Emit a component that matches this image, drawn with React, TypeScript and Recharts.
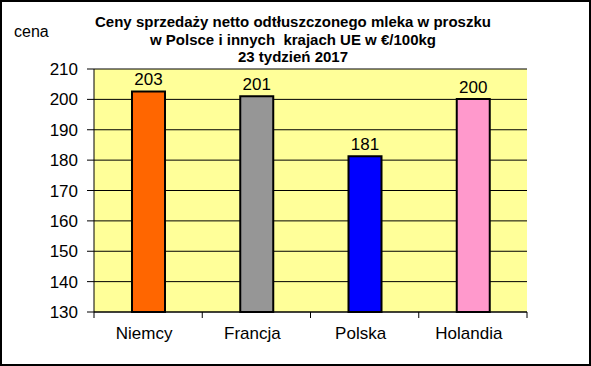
// Ceny OMP - wykres słupkowy

import {
  Bar,
  BarChart,
  CartesianGrid,
  Cell,
  LabelList,
  XAxis,
  YAxis,
} from "recharts";

const countries = ["Niemcy", "Francja", "Polska", "Holandia"];
const prices = [202.6, 201, 181.3, 200.1];
const barColors = ["#FF6600", "#969696", "#0000FF", "#FF99CC"];
const yTicks = [130, 140, 150, 160, 170, 180, 190, 200, 210];
const titleLines = [
  "Ceny sprzedaży netto odtłuszczonego mleka w proszku",
  "w Polsce i innych  krajach UE w €/100kg",
  "23 tydzień 2017",
];

const FONT = "Arial, 'Liberation Sans', sans-serif";
const X_TICK_SIZE = 6;
const X_TICK_MARGIN = 4;

const chartData = countries.map((name, i) => ({
  name,
  cena: prices[i],
}));

// etykieta osi X + kreski na granicach kategorii
const CountryTick = (props: any) => {
  const { x, y, payload, index } = props;
  const axisY = y - X_TICK_SIZE - X_TICK_MARGIN;
  const off = payload.offset || 0;
  return (
    <g>
      <line
        x1={x - off}
        x2={x - off}
        y1={axisY}
        y2={axisY + X_TICK_SIZE}
        stroke="#000"
      />
      {index === countries.length - 1 && (
        <line
          x1={x + off}
          x2={x + off}
          y1={axisY}
          y2={axisY + X_TICK_SIZE}
          stroke="#000"
        />
      )}
      <text
        x={x - 4}
        y={y}
        dy={17}
        textAnchor="middle"
        fontSize={17}
        fontFamily={FONT}
        fill="#000"
      >
        {payload.value}
      </text>
    </g>
  );
};

export default function App() {
  return (
    <div
      style={{
        position: "absolute",
        left: 0,
        top: 0,
        width: 591,
        height: 366,
        background: "#fff",
        fontFamily: FONT,
      }}
    >
      <BarChart
        width={591}
        height={366}
        data={chartData}
        margin={{ top: 69, right: 64, left: 0, bottom: 0 }}
      >
        <CartesianGrid
          vertical={false}
          stroke="#000"
          fill="#FFFF99"
          fillOpacity={1}
        />
        <XAxis
          dataKey="name"
          height={54}
          axisLine={{ stroke: "#000" }}
          tickLine={false}
          tickSize={X_TICK_SIZE}
          tickMargin={X_TICK_MARGIN}
          tick={<CountryTick />}
          interval={0}
        />
        <XAxis
          xAxisId="top"
          dataKey="name"
          orientation="top"
          height={0}
          tick={false}
          tickLine={false}
          axisLine={{ stroke: "#808080" }}
        />
        <YAxis
          width={94}
          domain={[130, 210]}
          ticks={yTicks}
          interval={0}
          tickSize={7}
          tickMargin={9}
          axisLine={{ stroke: "#000" }}
          tickLine={{ stroke: "#000" }}
          tick={{ fontSize: 17, fill: "#000", fontFamily: FONT }}
        />
        <YAxis
          yAxisId="right"
          orientation="right"
          width={0}
          domain={[130, 210]}
          tick={false}
          tickLine={false}
          axisLine={{ stroke: "#808080" }}
        />
        <Bar
          dataKey="cena"
          barSize={33}
          stroke="#000"
          strokeWidth={2}
          isAnimationActive={false}
        >
          {chartData.map((entry, index) => (
            <Cell key={`cell-${index}`} fill={barColors[index]} />
          ))}
          <LabelList
            dataKey="cena"
            position="top"
            offset={6}
            formatter={(v: any) => Math.round(Number(v))}
            style={{ fontSize: 17, fill: "#000", fontFamily: FONT }}
          />
        </Bar>
      </BarChart>

      {/* tytuł */}
      <div
        style={{
          position: "absolute",
          left: 73,
          width: 440,
          top: 13,
          textAlign: "center",
          fontWeight: "bold",
          fontSize: 15,
          lineHeight: "17.5px",
          color: "#000",
          whiteSpace: "pre",
        }}
      >
        {titleLines.map((line) => (
          <div key={line}>{line}</div>
        ))}
      </div>
      <div
        style={{
          position: "absolute",
          left: 14,
          top: 23,
          fontSize: 16,
          color: "#000",
        }}
      >
        cena
      </div>

      {/* ramka */}
      <div
        style={{
          position: "absolute",
          inset: 0,
          border: "2px solid #000",
          pointerEvents: "none",
        }}
      />
    </div>
  );
}
